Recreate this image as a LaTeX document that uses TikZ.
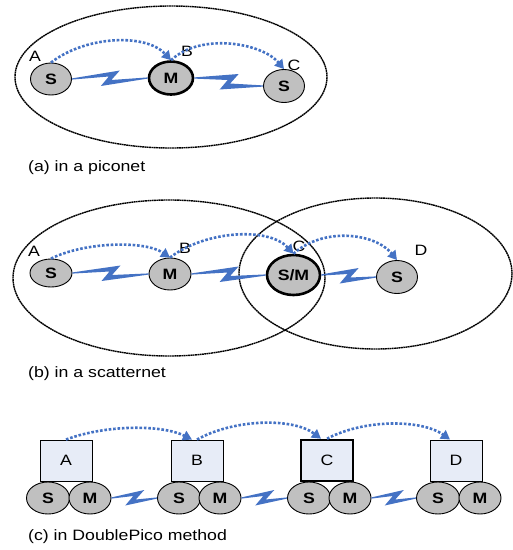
\documentclass[tikz,border=0pt]{standalone}
\usepackage{fontspec}
\setmainfont{Liberation Sans}[FakeStretch=1.18]
\usetikzlibrary{shapes.geometric,arrows.meta,calc}
\definecolor{boltblue}{RGB}{68,114,196}
\definecolor{nodegray}{RGB}{192,192,192}
\definecolor{boxfill}{RGB}{231,236,247}
\newcommand\zap[2]{%
  \fill[boltblue] ($(#1.east)+(0,-0.6)$)
    -- ($(#1.east)!0.5!(#2.west)+(10,-8)$)
    -- ($(#1.east)!0.5!(#2.west)+(1.5,1.5)$)
    -- ($(#2.west)+(0,-0.6)$)
    -- ($(#2.west)+(0,0.6)$)
    -- ($(#1.east)!0.5!(#2.west)+(-9,7.5)$)
    -- ($(#1.east)!0.5!(#2.west)+(-1,-2)$)
    -- ($(#1.east)+(0,0.6)$) -- cycle;}
\begin{document}
\begin{tikzpicture}[x=1pt,y=-1pt,
  dev/.style={ellipse, draw=black, line width=0.9pt, fill=nodegray, inner sep=0pt,
    minimum width=41pt, minimum height=32pt, font=\fontsize{15}{15}\selectfont\bfseries},
  master/.style={dev, line width=2.6pt},
  netrange/.style={draw=black, line width=1.4pt, dash pattern=on 1.8pt off 0.5pt},
  hop/.style={draw=boltblue, line width=2.6pt, dash pattern=on 2.6pt off 1.8pt,
    -{Triangle[length=9pt,width=10pt]}},
  lbl/.style={font=\fontsize{15}{15}\selectfont, inner sep=0pt},
  captext/.style={font=\fontsize{15}{15}\selectfont, anchor=west, inner sep=0pt},
  pbox/.style={draw=black, line width=0.9pt, fill=boxfill, minimum width=52pt,
    minimum height=41pt, inner sep=0pt, font=\fontsize{15}{15}\selectfont},
  pboxm/.style={pbox, line width=2.6pt},
]
\useasboundingbox (0,0) rectangle (513,550);
% ---------------- (a) piconet
\draw[netrange] (171,77) ellipse [x radius=156, y radius=71];
\node[dev] (a1) at (51,79) {S};
\node[master, minimum width=44pt, minimum height=33pt] (a2) at (171,78) {M};
\node[dev, minimum height=33pt] (a3) at (284,86) {S};
\node[lbl] (la) at (35,56) {A};
\node[lbl] (lb) at (187,51) {B};
\node[lbl] (lc) at (294,65) {C};
\zap{a1}{a2}
\zap{a2}{a3}
\draw[hop] (a1.north) .. controls +(35,-27) and +(-25,-27) .. (a2.north);
\draw[hop] (a2.north) .. controls +(30,-28) and +(-22,-26) .. (a3.north);
\node[captext] (capa) at (28,168) {(a) in a piconet};
% ---------------- (b) scatternet
\draw[netrange] (169,278) ellipse [x radius=156, y radius=78];
\draw[netrange] (375.5,273.5) ellipse [x radius=136.5, y radius=75.5];
\node[dev, minimum width=42pt, minimum height=28pt] (b1) at (51,273) {S};
\node[dev, minimum width=42pt] (b2) at (170,274) {M};
\node[master, minimum width=53pt, minimum height=40pt] (b3) at (293.5,275) {S/M};
\node[dev, minimum height=33pt] (b4) at (397,277) {S};
\node[lbl] (lba) at (34,251) {A};
\node[lbl] (lbb) at (185,248) {B};
\node[lbl] (lbc) at (299,246) {C};
\node[lbl] (lbd) at (421,250) {D};
\zap{b1}{b2}
\zap{b2}{b3}
\zap{b3}{b4}
\draw[hop] (b1.north) .. controls +(35,-17) and +(-25,-17) .. (b2.north);
\draw[hop] (b2.north) .. controls +(35,-27) and +(-25,-27) .. (b3.north);
\draw[hop] (b3.north) .. controls +(30,-27) and +(-22,-27) .. (b4.north);
\node[captext] (capb) at (28,374) {(b) in a scatternet};
% ---------------- (c) DoublePico
\node[pbox] (cA) at (66,460.5) {A};
\node[pbox] (cB) at (197,460.5) {B};
\node[pboxm] (cC) at (327,460.5) {C};
\node[pbox] (cD) at (456,460.5) {D};
\node[dev, minimum width=43pt] (sA) at (48,498) {S};
\node[dev, minimum width=42pt] (mA) at (90,498) {M};
\node[dev, minimum width=43pt] (sB) at (179,498) {S};
\node[dev, minimum width=42pt] (mB) at (220,498) {M};
\node[dev, minimum width=43pt] (sC) at (309,498) {S};
\node[dev, minimum width=42pt] (mC) at (350,498) {M};
\node[dev, minimum width=43pt] (sD) at (438,498) {S};
\node[dev, minimum width=42pt] (mD) at (480,498) {M};
\zap{mA}{sB}
\zap{mB}{sC}
\zap{mC}{sD}
\draw[hop] (cA.north) .. controls +(40,-15) and +(-30,-15) .. ($(cB.north)+(-5,0)$);
\draw[hop] (cB.north) .. controls +(38,-21) and +(-28,-21) .. ($(cC.north)+(-6,0)$);
\draw[hop] (cC.north) .. controls +(38,-20) and +(-28,-20) .. ($(cD.north)+(-6,0)$);
\node[captext] (capc) at (28,537) {(c) in DoublePico method};
\end{tikzpicture}
\end{document}
